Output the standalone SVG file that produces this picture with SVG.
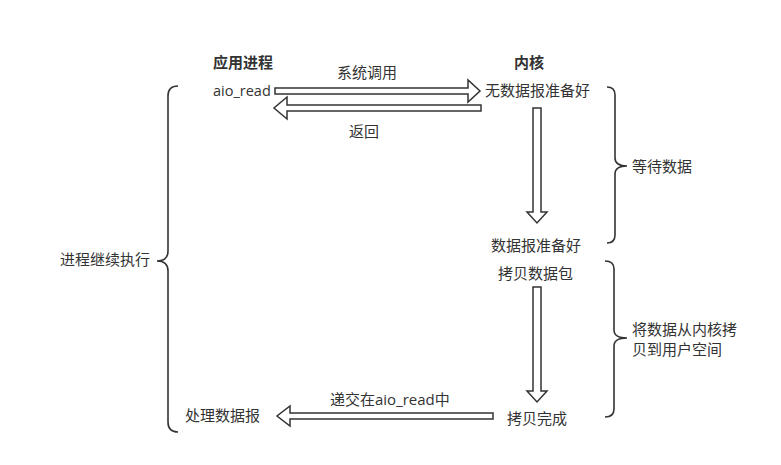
<svg xmlns="http://www.w3.org/2000/svg" width="781" height="465" viewBox="0 0 781 465">
<style>
text{font-family:"Open Sans","Noto Sans CJK SC","Noto Sans",sans-serif;font-size:15px;fill:#333}
.b{font-weight:bold}
.arrow{fill:#fff;stroke:#333;stroke-width:1.5;stroke-linejoin:miter}
.brace{fill:none;stroke:#333;stroke-width:1.6}
</style>
<rect width="781" height="465" fill="#fff"/>
<g id="labels">
<text class="b" x="213" y="68">应用进程</text>
<text class="b" x="514" y="68">内核</text>
</g>
<g id="aio_read"><text x="213" y="96" style="font-size:14.5px">aio_read</text></g>
<g id="nodata"><text x="485" y="96">无数据报准备好</text></g>
<g id="ready"><text x="491" y="251">数据报准备好</text></g>
<g id="copy"><text x="498" y="279">拷贝数据包</text></g>
<g id="copydone"><text x="507" y="424">拷贝完成</text></g>
<g id="process"><text x="185" y="421">处理数据报</text></g>
<g id="wait"><text x="632" y="172">等待数据</text></g>
<g id="copyspace"><text x="632" y="335">将数据从内核拷</text><text x="632" y="355">贝到用户空间</text></g>
<g id="continue"><text x="60" y="265">进程继续执行</text></g>
<g id="connectors">
<polygon class="arrow" points="275,88 468,88 468,80 480,91 468,102 468,94 275,94"/>
<polygon class="arrow" points="481,105 287,105 287,97 274,108 287,119 287,111 481,111"/>
<polygon class="arrow" points="533,108 541,108 541,212 547,212 537,223 527,212 533,212"/>
<polygon class="arrow" points="533,287 541,287 541,391 547,391 537,402 527,391 533,391"/>
<polygon class="arrow" points="493,413 290,413 290,406 277,416 290,426 290,419 493,419"/>
<text x="337" y="78">系统调用</text>
<text x="349" y="137">返回</text>
<text x="330" y="405">递交在aio_read中</text>
<path class="brace" d="M178,86 Q168,86 168,96 L168,251 Q168,261 157,261 Q168,261 168,271 L168,422 Q168,432 178,432"/>
<path class="brace" d="M607,87 Q615,87 615,95 L615,158 Q615,166 627,166 Q615,166 615,174 L615,235 Q615,243 607,243"/>
<path class="brace" d="M605,261 Q614,261 614,269 L614,330 Q614,338 627,338 Q614,338 614,346 L614,409 Q614,417 605,417"/>
</g>
</svg>
